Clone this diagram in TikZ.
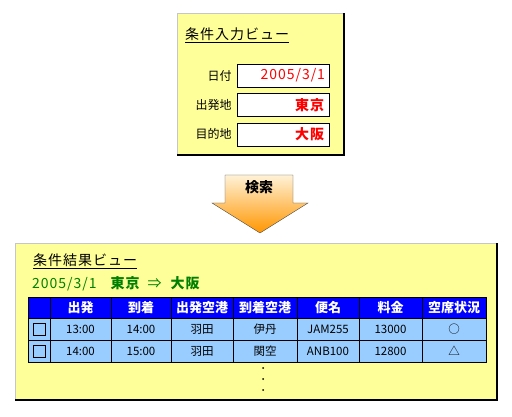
\documentclass[tikz,border=0pt]{standalone}
\usepackage{fontspec}
\setmainfont{Noto Sans CJK JP}
\newfontfamily\widefont[LetterSpace=7]{Noto Sans CJK JP}
\usetikzlibrary{positioning,calc}
\definecolor{viewbg}{RGB}{255,255,153}
\definecolor{cellbg}{RGB}{153,204,255}
\definecolor{headbg}{RGB}{0,0,255}
\definecolor{okgreen}{RGB}{0,128,0}
\definecolor{arrowtop}{RGB}{255,242,215}
\definecolor{arrowbot}{RGB}{255,150,0}

\begin{document}
\begin{tikzpicture}[
  x=1pt,y=-1pt,
  font=\fontsize{12}{14}\selectfont,
  title/.style={anchor=west,inner sep=0pt,font=\fontsize{14}{16}\selectfont\widefont},
  lbl/.style={anchor=east,inner sep=0pt},
  field/.style={draw,fill=white,minimum width=92pt,minimum height=23pt,inner sep=3pt,text width=84pt,align=right,text=red,font=\fontsize{14}{16}\selectfont\widefont},
  head/.style={draw,fill=headbg,text=white,minimum height=21pt,inner sep=0pt,outer sep=0pt,font=\fontsize{13}{15}\selectfont\bfseries},
  cell/.style={draw,fill=cellbg,minimum height=22pt,inner sep=0pt,outer sep=0pt,font=\fontsize{11.5}{13}\selectfont},
  chk/.style={draw,minimum size=12.5pt,inner sep=0pt}
]
\useasboundingbox (0,0) rectangle (512,417);

% input view
\fill[viewbg] (177,13) rectangle (344,155);
\draw[gray!45] (177,155) -- (177,13) -- (344,13);
\draw[line width=2pt] (177,155) -- (344,155) -- (344,13);
\node[title] (intitle) at (185,35) {\underline{条件入力ビュー}};

\node[field] (date) at (283,75.5) {2005/3/1};
\node[field,below=6pt of date] (from) {\textbf{東京}};
\node[field,below=6pt of from] (to) {\textbf{大阪}};
\node[lbl] (ldate) at ($(date.west)+(-5,0)$) {日付};
\node[lbl] (lfrom) at ($(from.west)+(-5,0)$) {出発地};
\node[lbl] (lto) at ($(to.west)+(-5,0)$) {目的地};

% search arrow
\draw[top color=arrowtop,bottom color=arrowbot,draw=black!70]
  (225,175) -- (293,175) -- (293,203) -- (308,203) -- (260,233)
  -- (212,203) -- (225,203) -- cycle;
\node[font=\fontsize{14}{16}\selectfont\bfseries] (search) at (259,187) {検索};

% result view
\fill[viewbg] (15,243) rectangle (497,400);
\draw[gray!45] (15,400) -- (15,243) -- (497,243);
\draw[line width=2pt] (15,400) -- (497,400) -- (497,243);
\node[title] (outtitle) at (33,261) {\underline{条件結果ビュー}};
\node[anchor=west,inner sep=0pt,text=okgreen,font=\fontsize{14}{16}\selectfont\widefont] (cond) at (32,284)
  {2005/3/1\hspace{13pt}\textbf{東京}\hspace{7pt}⇒\hspace{8pt}\textbf{大阪}};

% table
\node[head,minimum width=22pt] (h1) at (39,307.5) {};
\node[head,minimum width=61pt,right=0pt of h1] (h2) {出発};
\node[head,minimum width=60pt,right=0pt of h2] (h3) {到着};
\node[head,minimum width=62pt,right=0pt of h3] (h4) {出発空港};
\node[head,minimum width=64pt,right=0pt of h4] (h5) {到着空港};
\node[head,minimum width=62pt,right=0pt of h5] (h6) {便名};
\node[head,minimum width=63pt,right=0pt of h6] (h7) {料金};
\node[head,minimum width=64pt,right=0pt of h7] (h8) {空席状況};

\node[cell,minimum width=22pt,below=0pt of h1] (a1) {};
\node[cell,minimum width=61pt,right=0pt of a1] (a2) {13:00};
\node[cell,minimum width=60pt,right=0pt of a2] (a3) {14:00};
\node[cell,minimum width=62pt,right=0pt of a3] (a4) {羽田};
\node[cell,minimum width=64pt,right=0pt of a4] (a5) {伊丹};
\node[cell,minimum width=62pt,right=0pt of a5] (a6) {JAM255};
\node[cell,minimum width=63pt,right=0pt of a6] (a7) {13000};
\node[cell,minimum width=64pt,right=0pt of a7] (a8) {○};

\node[cell,minimum width=22pt,below=0pt of a1] (b1) {};
\node[cell,minimum width=61pt,right=0pt of b1] (b2) {14:00};
\node[cell,minimum width=60pt,right=0pt of b2] (b3) {15:00};
\node[cell,minimum width=62pt,right=0pt of b3] (b4) {羽田};
\node[cell,minimum width=64pt,right=0pt of b4] (b5) {関空};
\node[cell,minimum width=62pt,right=0pt of b5] (b6) {ANB100};
\node[cell,minimum width=63pt,right=0pt of b6] (b7) {12800};
\node[cell,minimum width=64pt,right=0pt of b7] (b8) {△};

\node[chk] (ka) at (a1) {};
\node[chk] (kb) at (b1) {};

% more rows
\fill (263,368) circle (1pt) (263,379) circle (1pt) (263,390) circle (1pt);
\end{tikzpicture}
\end{document}
